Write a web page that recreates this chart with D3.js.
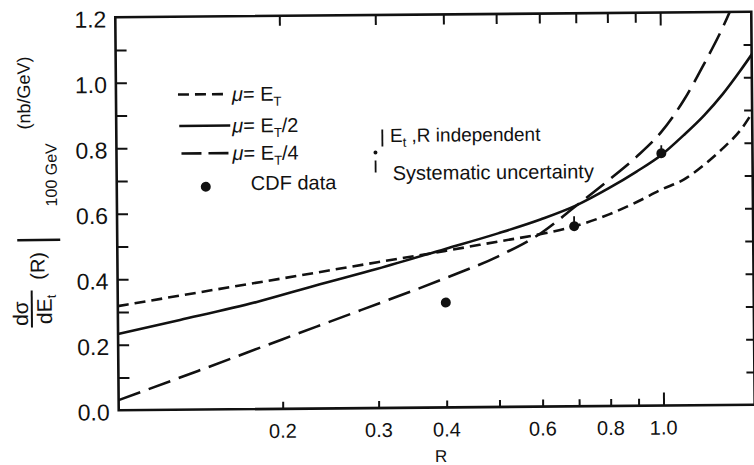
<!DOCTYPE html>
<html>
<head>
<meta charset="utf-8">
<script src="https://cdn.jsdelivr.net/npm/d3@7"></script>
<style>
  html, body { margin: 0; padding: 0; background: #fff; }
  svg { display: block; }
  text { font-family: "Liberation Sans", Arial, sans-serif; fill: #111; }
</style>
</head>
<body>
<script>
// Axis ticks and labels
const rMinorTicks = [0.2, 0.3, 0.4, 0.5, 0.6, 0.7, 0.8, 0.9, 1.0];
const rTicks = [0.2, 0.3, 0.4, 0.6, 0.8, 1.0];
const rTickLabels = ["0.2", "0.3", "0.4", "0.6", "0.8", "1.0"];
const yMinorTicks = [0.1, 0.2, 0.3, 0.4, 0.5, 0.6, 0.7, 0.8, 0.9, 1.0, 1.1];
const yTicks = [0.0, 0.2, 0.4, 0.6, 0.8, 1.0, 1.2];
const yTickLabels = ["0.0", "0.2", "0.4", "0.6", "0.8", "1.0", "1.2"];

// Theory curves: dσ/dE_t(R) at 100 GeV for three scale choices
const rMuEt = [0.10, 0.15, 0.20, 0.30, 0.40, 0.50, 0.60, 0.70, 0.80, 0.90, 1.00, 1.10, 1.20, 1.30, 1.40, 1.50];
const sigMuEt = [0.318, 0.365, 0.398, 0.445, 0.478, 0.505, 0.527, 0.552, 0.585, 0.622, 0.660, 0.690, 0.735, 0.785, 0.840, 0.915];

const rMuEt2 = [0.10, 0.13, 0.18, 0.23, 0.30, 0.40, 0.50, 0.60, 0.70, 0.80, 0.90, 1.00, 1.10, 1.20, 1.30, 1.40, 1.50];
const sigMuEt2 = [0.233, 0.274, 0.327, 0.375, 0.425, 0.484, 0.530, 0.572, 0.615, 0.665, 0.715, 0.765, 0.825, 0.885, 0.950, 1.020, 1.090];

const rMuEt4 = [0.10, 0.14, 0.20, 0.28, 0.40, 0.50, 0.60, 0.70, 0.80, 0.90, 1.00, 1.10, 1.20, 1.30, 1.40];
const sigMuEt4 = [0.031, 0.118, 0.212, 0.300, 0.395, 0.460, 0.530, 0.615, 0.690, 0.760, 0.835, 0.930, 1.040, 1.150, 1.270];

// CDF measurements with systematic bars
const cdfR = [0.40, 0.69, 1.00];
const cdfSig = [0.320, 0.550, 0.770];
const cdfSystUp = [0.0, 0.030, 0.025];

const W = 754, H = 465;
const plotLeft = 117, plotRight = 753, plotTop = 14.5, plotBottom = 407.5;

const svg = d3.select("body").append("svg")
  .attr("width", W).attr("height", H)
  .attr("viewBox", `0 0 ${W} ${H}`);

const root = svg.append("g").attr("transform", "rotate(-0.5, 435, 212)");

const x = d3.scaleLog().domain([0.1, 1.47]).range([plotLeft, plotRight]);
const y = d3.scaleLinear().domain([0, 1.2]).range([plotBottom, plotTop]);

root.append("clipPath").attr("id", "plotClip")
  .append("rect").attr("x", plotLeft).attr("y", plotTop)
  .attr("width", plotRight - plotLeft).attr("height", plotBottom - plotTop);

// Tick marks pointing into the frame on all four sides
function styleAxis(g) {
  g.select(".domain").remove();
  g.selectAll(".tick line").attr("stroke", "#111").attr("stroke-width", 2);
}
root.append("g").attr("transform", `translate(0,${plotBottom})`)
  .call(d3.axisBottom(x).tickValues(rMinorTicks).tickSize(-7).tickFormat(""))
  .call(styleAxis)
  .selectAll(".tick line").attr("y2", d => d === 1.0 ? -13 : -7);
root.append("g").attr("transform", `translate(0,${plotTop})`)
  .call(d3.axisTop(x).tickValues(rMinorTicks).tickSize(-10).tickFormat(""))
  .call(styleAxis)
  .selectAll(".tick line").attr("y2", d => d === 1.0 ? 13 : 10);
root.append("g").attr("transform", `translate(${plotLeft},0)`)
  .call(d3.axisLeft(y).tickValues(yMinorTicks).tickSize(-11).tickFormat(""))
  .call(styleAxis);
root.append("g").attr("transform", `translate(${plotRight},0)`)
  .call(d3.axisRight(y).tickValues(yMinorTicks).tickSize(-8).tickFormat(""))
  .call(styleAxis);

// Frame
root.append("rect")
  .attr("x", plotLeft).attr("y", plotTop)
  .attr("width", plotRight - plotLeft).attr("height", plotBottom - plotTop)
  .attr("fill", "none").attr("stroke", "#111").attr("stroke-width", 2.6);

// Tick labels
root.append("g").selectAll("text").data(yTicks).join("text")
  .attr("x", plotLeft - 9)
  .attr("y", d => y(d) + 10)
  .attr("text-anchor", "end")
  .attr("font-size", 23)
  .text((d, i) => yTickLabels[i]);

root.append("g").selectAll("text").data(rTicks).join("text")
  .attr("x", d => x(d))
  .attr("y", plotBottom + 29)
  .attr("text-anchor", "middle")
  .attr("font-size", 20)
  .text((d, i) => rTickLabels[i]);

root.append("text")
  .attr("x", 439).attr("y", 462)
  .attr("text-anchor", "middle").attr("font-size", 17)
  .text("R");

// Y axis title, rotated
const yt = root.append("g").attr("transform", "rotate(-90)");
yt.append("text").attr("x", -310).attr("y", 27)
  .attr("text-anchor", "middle").attr("font-size", 21).text("dσ");
yt.append("line").attr("x1", -324).attr("x2", -287).attr("y1", 31).attr("y2", 31)
  .attr("stroke", "#111").attr("stroke-width", 2);
const den = yt.append("text").attr("x", -306).attr("y", 51)
  .attr("text-anchor", "middle").attr("font-size", 21);
den.append("tspan").text("dE");
den.append("tspan").attr("font-size", 13).attr("dy", 4).text("t");
yt.append("text").attr("x", -262.5).attr("y", 44)
  .attr("text-anchor", "middle").attr("font-size", 20).text("(R)");
yt.append("line").attr("x1", -236.5).attr("x2", -236.5).attr("y1", 17).attr("y2", 60)
  .attr("stroke", "#111").attr("stroke-width", 2.5);
yt.append("text").attr("x", -171.5).attr("y", 57)
  .attr("text-anchor", "middle").attr("font-size", 16).text("100 GeV");
yt.append("text").attr("x", -89.5).attr("y", 31)
  .attr("text-anchor", "middle").attr("font-size", 18).text("(nb/GeV)");

// Curves
const dashShort = "11,6", dashLong = "23,9";
const line = d3.line().x(d => x(d[0])).y(d => y(d[1])).curve(d3.curveMonotoneX);
const series = [
  { r: rMuEt, v: sigMuEt, dash: dashShort },
  { r: rMuEt2, v: sigMuEt2, dash: null },
  { r: rMuEt4, v: sigMuEt4, dash: dashLong }
];
const plot = root.append("g").attr("clip-path", "url(#plotClip)");
series.forEach(s => {
  plot.append("path")
    .datum(s.r.map((r, i) => [r, s.v[i]]))
    .attr("d", line)
    .attr("fill", "none")
    .attr("stroke", "#111")
    .attr("stroke-width", 2.6)
    .attr("stroke-dasharray", s.dash);
});

// Data points
const pts = cdfR.map((r, i) => ({ r, v: cdfSig[i], up: cdfSystUp[i] }));
plot.selectAll("line.syst").data(pts.filter(d => d.up > 0)).join("line")
  .attr("class", "syst")
  .attr("x1", d => x(d.r)).attr("x2", d => x(d.r))
  .attr("y1", d => y(d.v)).attr("y2", d => y(d.v + d.up))
  .attr("stroke", "#111").attr("stroke-width", 1.8);
plot.selectAll("circle.cdf").data(pts).join("circle")
  .attr("class", "cdf")
  .attr("cx", d => x(d.r)).attr("cy", d => y(d.v))
  .attr("r", 5).attr("fill", "#111");

// Legend
const legend = root.append("g");
const legRows = [
  { y: 92.3, x1: 179, x2: 229, dash: dashShort, sub: "T", tail: "" },
  { y: 123.7, x1: 180, x2: 231, dash: null, sub: "T", tail: "/2" },
  { y: 151.3, x1: 182, x2: 229, dash: "20,7", sub: "T", tail: "/4" }
];
legRows.forEach(row => {
  legend.append("line")
    .attr("x1", row.x1).attr("x2", row.x2).attr("y1", row.y).attr("y2", row.y)
    .attr("stroke", "#111").attr("stroke-width", 2.6)
    .attr("stroke-dasharray", row.dash);
  const t = legend.append("text").attr("x", 233).attr("y", row.y + 7).attr("font-size", 20);
  t.append("tspan").attr("font-style", "italic").text("μ");
  t.append("tspan").text("= E");
  t.append("tspan").attr("font-size", 13).attr("dy", 5).text(row.sub);
  if (row.tail) t.append("tspan").attr("dy", -5).text(row.tail);
});
legend.append("circle").attr("cx", 206).attr("cy", 184.7).attr("r", 5).attr("fill", "#111");
legend.append("text").attr("x", 251).attr("y", 188.4).attr("font-size", 20).text("CDF data");

// Uncertainty key
legend.append("line").attr("x1", 383).attr("x2", 383).attr("y1", 129).attr("y2", 146)
  .attr("stroke", "#111").attr("stroke-width", 1.8);
legend.append("circle").attr("cx", 376).attr("cy", 152).attr("r", 2).attr("fill", "#111");
legend.append("line").attr("x1", 376).attr("x2", 376).attr("y1", 160).attr("y2", 172)
  .attr("stroke", "#111").attr("stroke-width", 1.8);
const ind = legend.append("text").attr("x", 390.6).attr("y", 141.6).attr("font-size", 19);
ind.append("tspan").text("E");
ind.append("tspan").attr("font-size", 13).attr("dy", 5).text("t");
ind.append("tspan").attr("dy", -5).text(" ,R independent");
legend.append("text").attr("x", 393).attr("y", 179.6).attr("font-size", 20).text("Systematic uncertainty");
</script>
</body>
</html>
